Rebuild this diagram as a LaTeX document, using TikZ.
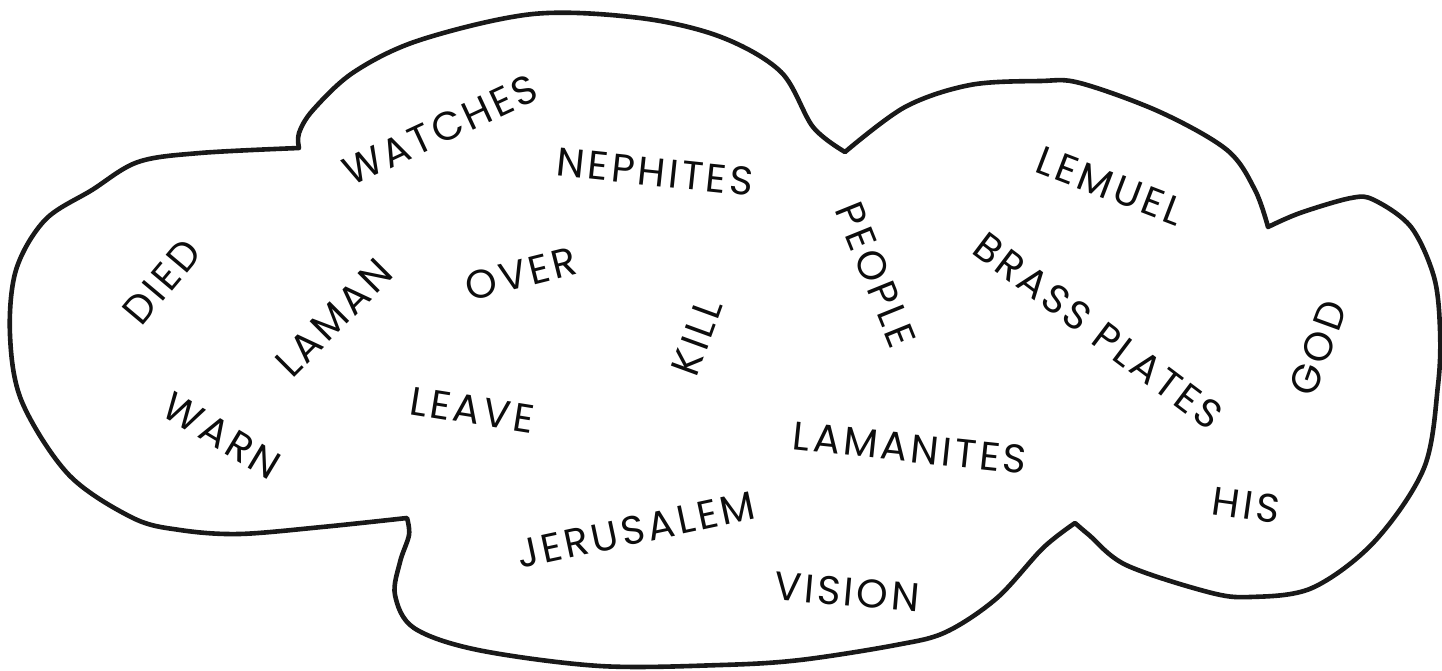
\documentclass[tikz,border=0pt]{standalone}
\usepackage{fontspec}
\setmainfont{Poppins}[LetterSpace=8]
\begin{document}
\begin{tikzpicture}[x=1pt,y=-1pt,
  cloud/.style={line width=4.6pt, line join=round, draw=black!90},
  word/.style={font=\fontsize{40}{40}\selectfont, inner sep=0pt, text=black!95}]
\useasboundingbox (0,0) rectangle (1442,670);
\fill[white] (0,0) rectangle (1442,670);
\draw[cloud]
  plot[smooth, tension=0.55] coordinates {(299,148) (299,133) (313,110) (354,72) (420,40) (533,14) (640,18) (721,37) (781,72) (813,127) (845,152)}
  -- plot[smooth, tension=0.55] coordinates {(845,152) (905,107) (970,85) (1040,81) (1080,83) (1160,112) (1227,150) (1255,190) (1268,227)}
  -- plot[smooth, tension=0.55] coordinates {(1268,227) (1300,213) (1351,198) (1374,200) (1411,227) (1434,277) (1440,330) (1438,385) (1424,468) (1374,542) (1312,588) (1250,597) (1208,592) (1126,565) (1089,535) (1075,523)}
  -- plot[smooth, tension=0.55] coordinates {(1075,523) (1043,548) (997,598) (946,632) (896,645) (800,660) (721,665) (600,666) (478,650) (414,628) (395,595) (400,562) (409,535) (407,518)}
  -- plot[smooth, tension=0.55] coordinates {(407,518) (322,527) (239,534) (180,530) (133,518) (69,475) (22,402) (10,335) (16,270) (45,220) (92,190) (138,162) (200,153) (299,148)}
  -- cycle;
\node[word, rotate=25]  (watches)   at (440,130) {WATCHES};
\node[word, rotate=-6]  (nephites)  at (655,172) {NEPHITES};
\node[word, rotate=50]  (died)      at (162,282) {DIED};
\node[word, rotate=45]  (laman)     at (334,318) {LAMAN};
\node[word, rotate=14]  (over)      at (521,274) {OVER};
\node[word, rotate=70]  (kill)      at (697,337) {KILL};
\node[word, rotate=-68] (people)    at (876,275) {PEOPLE};
\node[word, rotate=-21] (lemuel)    at (1110,186) {LEMUEL};
\node[word, rotate=-37] (brass)     at (1098,331) {BRASS PLATES};
\node[word, rotate=70]  (god)       at (1318,348) {GOD};
\node[word, rotate=-31] (warn)      at (222,436) {WARN};
\node[word, rotate=-9]  (leave)     at (472,410) {LEAVE};
\node[word, rotate=-6]  (lamanites) at (910,448) {LAMANITES};
\node[word, rotate=12]  (jerusalem) at (636,530) {JERUSALEM};
\node[word, rotate=-5]  (vision)    at (847,592) {VISION};
\node[word, rotate=-8]  (his)       at (1246,505) {HIS};
\end{tikzpicture}
\end{document}
